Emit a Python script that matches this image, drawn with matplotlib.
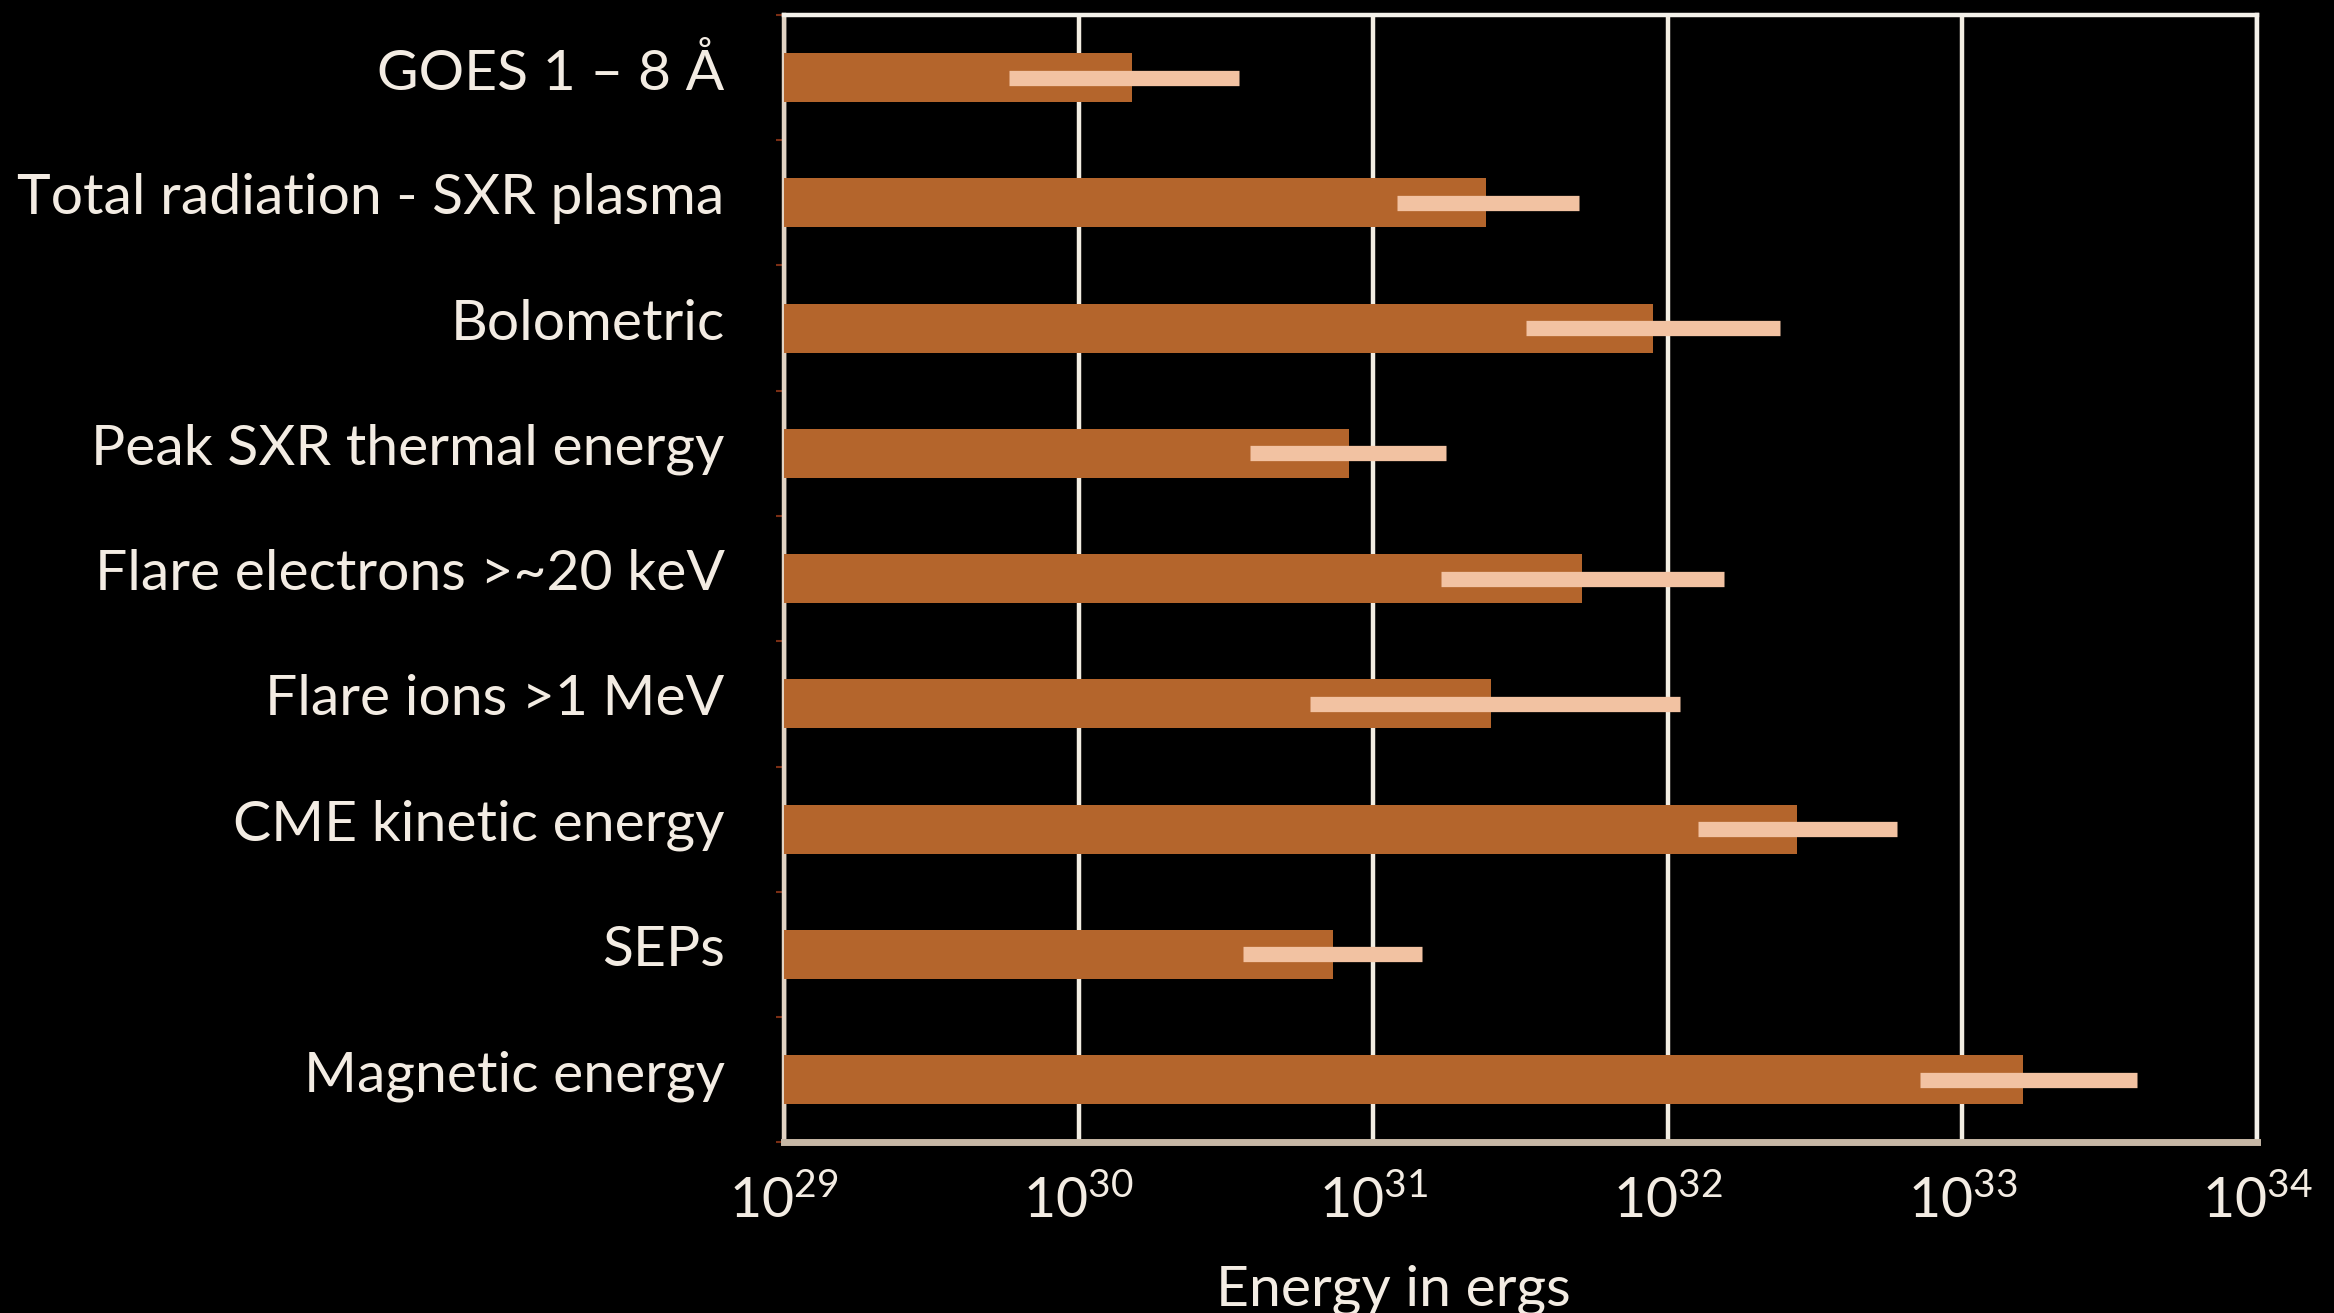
import numpy as np
import matplotlib.pyplot as plt
from matplotlib.ticker import FixedLocator, NullFormatter
from matplotlib.transforms import ScaledTranslation

plt.rcParams['font.family'] = ['Lato', 'DejaVu Sans']
plt.rcParams['mathtext.fontset'] = 'custom'
plt.rcParams['mathtext.rm'] = 'Lato'
plt.rcParams['mathtext.it'] = 'Lato'

# energy budget per component (ergs), with low/high range
categories = ['GOES 1 \u2013 8 \u00c5',
              'Total radiation - SXR plasma',
              'Bolometric',
              'Peak SXR thermal energy',
              'Flare electrons >~20 keV',
              'Flare ions >1 MeV',
              'CME kinetic energy',
              'SEPs',
              'Magnetic energy']
energy = np.array([1.42e30, 2.4e31, 8.9e31, 8.2e30, 5.1e31, 2.5e31, 2.75e32, 7.2e30, 1.6e33])
energy_low = np.array([5.8e29, 1.2e31, 3.3e31, 3.8e30, 1.7e31, 6.1e30, 1.27e32, 3.6e30, 7.2e32])
energy_high = np.array([3.5e30, 5.0e31, 2.4e32, 1.76e31, 1.55e32, 1.1e32, 6.0e32, 1.46e31, 3.9e33])
decades = [29, 30, 31, 32, 33, 34]

bar_col = '#B4652C'
err_col = '#F2C2A2'
txt_col = '#F3ECE3'

fig = plt.figure(figsize=(23.34, 13.13), dpi=100, facecolor='black')
ax = fig.add_axes([0.336, 0.130, 0.631, 0.8586])
ax.set_facecolor('black')

y = np.arange(len(categories))
ax.barh(y, energy, height=0.39, left=1e29, color=bar_col, zorder=3)
ax.errorbar(energy, y, xerr=[energy - energy_low, energy_high - energy],
            fmt='none', ecolor=err_col, elinewidth=11, capsize=0, zorder=4)

ax.set_xscale('log')
ax.set_xlim(1e29, 1e34)
ax.set_ylim(len(categories) - 0.5, -0.5)

ax.set_xticks([10.0 ** d for d in decades])
ax.set_xticklabels(['$10^{%d}$' % d for d in decades])
ax.xaxis.set_minor_locator(FixedLocator([]))
ax.tick_params(axis='x', which='major', length=0, pad=24, labelsize=40, labelcolor=txt_col)
ax.grid(axis='x', color='#F2EDE2', linewidth=3.2, zorder=1)

ax.set_yticks(y)
ax.set_yticklabels(categories)
ax.yaxis.set_minor_locator(FixedLocator(np.arange(len(categories) + 1) - 0.5))
ax.yaxis.set_minor_formatter(NullFormatter())
ax.tick_params(axis='y', which='major', length=0, pad=43, labelsize=41, labelcolor=txt_col)
ax.tick_params(axis='y', which='minor', length=6, width=1.5, color='#7A2E14')

# category names sit a little above the bar centres
shift = ScaledTranslation(0, 0.09, fig.dpi_scale_trans)
for lbl in ax.get_yticklabels():
    lbl.set_transform(lbl.get_transform() + shift)

for side in ['top', 'right']:
    ax.spines[side].set_color('#F4F1EA')
    ax.spines[side].set_linewidth(3.2)
ax.spines['left'].set_color('#E2D3C3')
ax.spines['left'].set_linewidth(3.2)
ax.spines['bottom'].set_color('#C7B8A6')
ax.spines['bottom'].set_linewidth(5)

fig.text(0.597, 0.006, 'Energy in ergs', color=txt_col, fontsize=41,
         ha='center', va='baseline')

fig.savefig('out.png', dpi=100, facecolor='black')
